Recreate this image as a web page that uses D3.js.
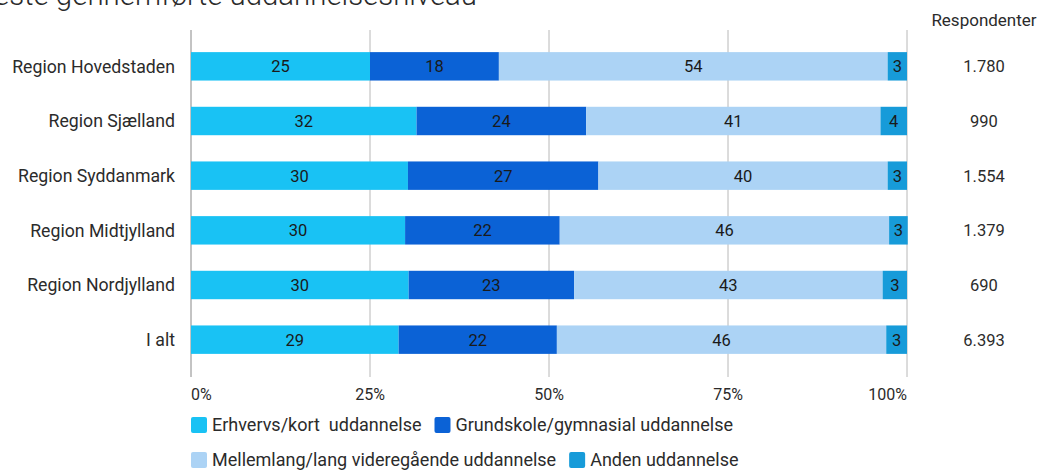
<!DOCTYPE html>
<html lang="da">
  <head>
    <meta charset="UTF-8" />
    <title>Højeste gennemførte uddannelsesniveau</title>
    <script src="https://d3js.org/d3.v7.min.js"></script>
    <style>
      body {
        margin: 0;
        background: #fff;
        font-family: Roboto, "Noto Sans", sans-serif;
      }
      svg text {
        fill: #2b2b2b;
      }
      .legend text {
        white-space: pre;
      }
    </style>
  </head>
  <body>
    <svg id="chart" width="1049" height="471"></svg>

    <script>
      const regions = [
        "Region Hovedstaden",
        "Region Sjælland",
        "Region Syddanmark",
        "Region Midtjylland",
        "Region Nordjylland",
        "I alt",
      ];
      const seriesNames = [
        "Erhvervs/kort  uddannelse",
        "Grundskole/gymnasial uddannelse",
        "Mellemlang/lang videregående uddannelse",
        "Anden uddannelse",
      ];
      const erhverv = [25.0, 31.5, 30.3, 29.9, 30.4, 29.0];
      const grundskole = [18.0, 23.7, 26.6, 21.6, 23.1, 22.1];
      const mellemlang = [54.3, 41.1, 40.4, 46.0, 43.1, 46.0];
      const anden = [2.7, 3.7, 2.7, 2.6, 3.4, 2.9];
      const respondenter = [1780, 990, 1554, 1379, 690, 6393];
      const xTicks = [0, 25, 50, 75, 100];
      const colors = ["#19c2f4", "#0b62d6", "#acd3f5", "#179bd9"];

      const series = [erhverv, grundskole, mellemlang, anden];
      const rows = regions.map((r, i) => {
        const d = { region: r };
        series.forEach((s, k) => (d["s" + k] = s[i]));
        return d;
      });
      const keys = series.map((s, k) => "s" + k);
      const stacked = d3.stack().keys(keys)(rows);

      const da = d3.formatLocale({
        decimal: ",",
        thousands: ".",
        grouping: [3],
        currency: ["", " kr"],
      });
      const fmtN = da.format(",d");

      const svg = d3.select("#chart");

      const x = d3.scaleLinear().domain([0, 100]).range([191, 907]);
      const y = d3
        .scaleBand()
        .domain(regions)
        .range([39, 367])
        .paddingInner(0.48)
        .paddingOuter(0.24);

      // title (cut off at the top edge, as in the source)
      svg
        .append("text")
        .attr("x", 477)
        .attr("y", 5)
        .attr("text-anchor", "end")
        .style("font-size", "29.4px")
        .style("font-weight", 300)
        .text("Højeste gennemførte uddannelsesniveau");

      // grid lines
      svg
        .append("g")
        .selectAll("line")
        .data(xTicks)
        .join("line")
        .attr("x1", (d) => x(d))
        .attr("x2", (d) => x(d))
        .attr("y1", 30)
        .attr("y2", 377)
        .attr("stroke", (d) => (d === 0 ? "#888" : "#b8b8b8"))
        .attr("stroke-width", 1);

      // tick labels
      svg
        .append("g")
        .selectAll("text")
        .data(xTicks)
        .join("text")
        .attr("x", (d) => x(d))
        .attr("y", 400)
        .attr("text-anchor", (d, i) =>
          i === 0 ? "start" : i === xTicks.length - 1 ? "end" : "middle"
        )
        .style("font-size", "16px")
        .text((d) => d + "%");

      // bars
      const layer = svg
        .append("g")
        .selectAll("g")
        .data(stacked)
        .join("g")
        .attr("fill", (d, i) => colors[i]);

      layer
        .selectAll("rect")
        .data((d) => d)
        .join("rect")
        .attr("x", (d) => x(d[0]))
        .attr("y", (d) => y(d.data.region))
        .attr("width", (d) => x(d[1]) - x(d[0]))
        .attr("height", y.bandwidth());

      layer
        .selectAll("text")
        .data((d) => d)
        .join("text")
        .attr("x", (d) => (x(d[0]) + x(d[1])) / 2)
        .attr("y", (d) => y(d.data.region) + y.bandwidth() / 2)
        .attr("dy", "0.36em")
        .attr("text-anchor", "middle")
        .style("font-size", "16.5px")
        .style("fill", "#1a1a1a")
        .text((d) => Math.round(d[1] - d[0]));

      // category labels
      svg
        .append("g")
        .selectAll("text")
        .data(regions)
        .join("text")
        .attr("x", 175)
        .attr("y", (d) => y(d) + y.bandwidth() / 2)
        .attr("dy", "0.36em")
        .attr("text-anchor", "end")
        .style("font-size", "17.7px")
        .text((d) => d);

      // respondents column
      svg
        .append("text")
        .attr("x", 984)
        .attr("y", 26)
        .attr("text-anchor", "middle")
        .style("font-size", "17px")
        .text("Respondenter");

      svg
        .append("g")
        .selectAll("text")
        .data(respondenter)
        .join("text")
        .attr("x", 984)
        .attr("y", (d, i) => y(regions[i]) + y.bandwidth() / 2)
        .attr("dy", "0.36em")
        .attr("text-anchor", "middle")
        .style("font-size", "16.5px")
        .text((d) => fmtN(d));

      // legend
      const legendRows = [
        [0, 1],
        [2, 3],
      ];
      const legend = svg.append("g").attr("class", "legend");
      legendRows.forEach((items, r) => {
        let lx = 191;
        const ly = 425 + r * 35;
        items.forEach((k) => {
          legend
            .append("rect")
            .attr("x", lx)
            .attr("y", ly - 8)
            .attr("width", 16)
            .attr("height", 16)
            .attr("rx", 2)
            .attr("fill", colors[k]);
          const t = legend
            .append("text")
            .attr("x", lx + 21)
            .attr("y", ly)
            .attr("dy", "0.36em")
            .style("font-size", "18px")
            .text(seriesNames[k]);
          lx += 21 + t.node().getComputedTextLength() + 13;
        });
      });
    </script>
  </body>
</html>
